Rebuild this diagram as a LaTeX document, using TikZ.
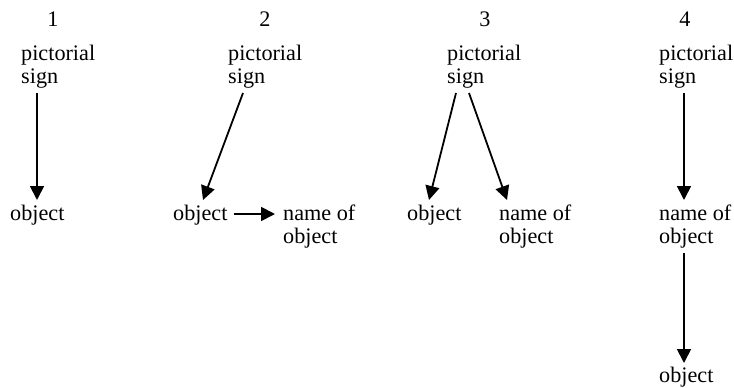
\documentclass[tikz,border=0pt]{standalone}
\usepackage{fontspec}
\setmainfont{Liberation Serif}
\usetikzlibrary{arrows.meta,calc}
\begin{document}
\begin{tikzpicture}[x=1pt,y=1pt,
  lbl/.style={inner sep=0pt,anchor=base west,align=left,font=\fontsize{22.2}{22.5}\selectfont},
  num/.style={inner sep=0pt,anchor=base,font=\fontsize{22.2}{22.5}\selectfont},
  arr/.style={line width=1.8pt,-{Triangle[length=14pt,width=14pt]}}]
\useasboundingbox (0,0) rectangle (734,-388);
% panel 1
\node[num] (n1) at (53,-26) {1};
\node[lbl] (p1) at (21,-83) {pictorial\\sign};
\node[lbl] (o1) at (10,-220) {object};
\draw[arr] ($(p1.base west)+(16,-10)$) -- ($(o1.base west)+(27,20)$);
% panel 2
\node[num] (n2) at (265,-26) {2};
\node[lbl] (p2) at (228,-83) {pictorial\\sign};
\node[lbl] (o2) at (173,-220) {object};
\node[lbl] (m2) at (283,-243) {name of\\object};
\draw[arr] ($(p2.base west)+(15,-10)$) -- ($(o2.base west)+(30,20)$);
\draw[arr] ($(o2.base east)+(6,6)$) -- ($(m2.base west)+(-8,29)$);
% panel 3
\node[num] (n3) at (485,-26) {3};
\node[lbl] (p3) at (447,-83) {pictorial\\sign};
\node[lbl] (o3) at (407,-220) {object};
\node[lbl] (m3) at (499,-243) {name of\\object};
\draw[arr] ($(p3.base west)+(9,-10)$) -- ($(o3.base west)+(22,20)$);
\draw[arr] ($(p3.base west)+(22,-10)$) -- ($(m3.base west)+(8,43)$);
% panel 4
\node[num] (n4) at (685,-26) {4};
\node[lbl] (p4) at (659,-83) {pictorial\\sign};
\node[lbl] (m4) at (659,-243) {name of\\object};
\node[lbl] (o4) at (659,-382) {object};
\draw[arr] ($(p4.base west)+(25,-10)$) -- ($(m4.base west)+(25,43)$);
\draw[arr] ($(m4.base west)+(25,-10)$) -- ($(o4.base west)+(25,19)$);
\end{tikzpicture}
\end{document}
